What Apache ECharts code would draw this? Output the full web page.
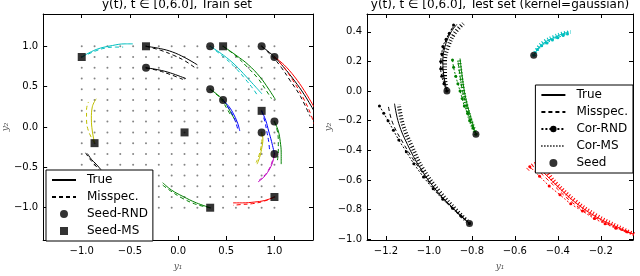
<!DOCTYPE html>
<html><head><meta charset="utf-8">
<script src="https://cdn.jsdelivr.net/npm/echarts@6/dist/echarts.min.js"></script>
<style>html,body{margin:0;padding:0;background:#fff}#c{width:640px;height:276px}</style>
</head><body><div id="c"></div>
<script>
// ---------------- data ----------------
const GRID_VALS = [-1, -0.8667, -0.7333, -0.6, -0.4667, -0.3333, -0.2, -0.0667, 0.0667, 0.2, 0.3333, 0.4667, 0.6, 0.7333, 0.8667, 1];
const LEFT_X_TICKS = [-1, -0.5, 0, 0.5, 1];
const LEFT_Y_TICKS = [-1, -0.5, 0, 0.5, 1];
const RIGHT_X_TICKS = [-1.2, -1.0, -0.8, -0.6, -0.4, -0.2];
const RIGHT_Y_TICKS = [-1.0, -0.8, -0.6, -0.4, -0.2, 0, 0.2, 0.4];

const LEFT_SEED_RND = [[0.333,1.0],[0.867,1.0],[1.0,0.867],[-0.333,0.733],[0.333,0.467],[0.467,0.333],[1.0,0.067],[0.867,-0.067],[1.0,-0.333]];
const LEFT_SEED_MS = [[-1.0,0.867],[-0.333,1.0],[0.467,1.0],[0.867,0.2],[0.067,-0.067],[-0.867,-0.2],[1.0,-0.867],[0.333,-1.0]];

const L1_TRUE = [[-1.0,0.867],[-0.85,0.96],[-0.68,1.01],[-0.55,1.03],[-0.47,1.03]];
const L1_MIS  = [[-1.0,0.867],[-0.86,0.94],[-0.75,0.98],[-0.65,0.99],[-0.57,0.99]];
const L2_TRUE = [[-0.333,1.0],[-0.18,0.97],[-0.06,0.93],[0.07,0.86],[0.20,0.77]];
const L2_MIS  = [[-0.333,1.0],[-0.18,0.95],[-0.05,0.89],[0.07,0.82],[0.18,0.73]];
const L3_TRUE = [[-0.333,0.733],[-0.21,0.71],[-0.08,0.67],[0.08,0.60]];
const L3_MIS  = [[-0.333,0.733],[-0.21,0.70],[-0.08,0.65],[0.05,0.59]];
const L4_TRUE = [[0.333,1.0],[0.47,0.89],[0.59,0.77],[0.71,0.62],[0.81,0.49],[0.87,0.41]];
const L4_MIS  = [[0.333,1.0],[0.47,0.87],[0.59,0.74],[0.70,0.59],[0.78,0.47],[0.83,0.38]];
const L5_TRUE = [[0.467,1.0],[0.60,0.89],[0.73,0.77],[0.85,0.62],[0.94,0.47],[1.01,0.34]];
const L5_MIS  = [[0.467,1.0],[0.60,0.88],[0.72,0.74],[0.83,0.60],[0.91,0.46],[0.97,0.35]];
const L6_TRUE = [[0.867,1.0],[0.99,0.88],[1.09,0.75],[1.21,0.57],[1.31,0.40],[1.41,0.20]];
const L6_MIS  = [[0.867,1.0],[0.98,0.87],[1.07,0.74],[1.16,0.58],[1.27,0.38],[1.37,0.13]];
const L7_TRUE = [[1.0,0.867],[1.10,0.77],[1.21,0.62],[1.31,0.45],[1.41,0.25]];
const L7_MIS  = [[1.0,0.867],[1.09,0.75],[1.19,0.58],[1.29,0.38],[1.37,0.18],[1.41,0.04]];
const L8_TRUE = [[0.333,0.467],[0.41,0.40],[0.467,0.333],[0.52,0.24],[0.56,0.15],[0.59,0.09]];
const L8_MIS  = [[0.333,0.467],[0.41,0.39],[0.46,0.32],[0.51,0.22],[0.55,0.14]];
const L9_TRUE = [[0.467,0.333],[0.53,0.25],[0.58,0.15],[0.62,0.04],[0.64,-0.05]];
const L9_MIS  = [[0.467,0.333],[0.52,0.24],[0.57,0.14],[0.60,0.05],[0.62,-0.03]];
const L10_TRUE = [[0.867,0.2],[0.91,0.08],[0.94,-0.05],[0.97,-0.18],[1.0,-0.333]];
const L10_MIS  = [[0.867,0.2],[0.90,0.07],[0.92,-0.05],[0.94,-0.18],[0.95,-0.30]];
const L11_TRUE = [[1.0,0.067],[1.04,-0.05],[1.06,-0.18],[1.07,-0.32],[1.07,-0.46]];
const L11_MIS  = [[1.0,0.067],[1.03,-0.05],[1.04,-0.18],[1.04,-0.30],[1.03,-0.42]];
const L12_TRUE = [[0.867,-0.067],[0.88,-0.15],[0.87,-0.25],[0.85,-0.36],[0.82,-0.46]];
const L12_MIS  = [[0.867,-0.067],[0.87,-0.15],[0.86,-0.25],[0.84,-0.35],[0.81,-0.44]];
const L13_TRUE = [[1.0,-0.333],[0.98,-0.44],[0.94,-0.54],[0.89,-0.62],[0.83,-0.68]];
const L13_MIS  = [[1.0,-0.333],[0.97,-0.45],[0.93,-0.55],[0.88,-0.62],[0.84,-0.66]];
const L14_TRUE = [[1.0,-0.867],[0.90,-0.91],[0.79,-0.93],[0.67,-0.94],[0.57,-0.94]];
const L14_MIS  = [[1.0,-0.867],[0.89,-0.92],[0.77,-0.95],[0.66,-0.96],[0.57,-0.97]];
const L15_TRUE = [[0.333,-1.0],[0.19,-0.94],[0.05,-0.86],[-0.07,-0.78],[-0.16,-0.69]];
const L15_MIS  = [[0.333,-1.0],[0.19,-0.96],[0.04,-0.88],[-0.08,-0.79],[-0.16,-0.72]];
const L16_TRUE = [[-0.867,-0.2],[-0.89,-0.05],[-0.90,0.10],[-0.89,0.25],[-0.85,0.35]];
const L16_MIS  = [[-0.867,-0.2],[-0.93,-0.05],[-0.95,0.10],[-0.95,0.22],[-0.93,0.31]];
const L17_TRUE = [[-0.94,-0.33],[-0.90,-0.40],[-0.85,-0.46],[-0.80,-0.53]];
const L17_MIS  = [[-0.96,-0.32],[-0.92,-0.39],[-0.87,-0.46],[-0.82,-0.53]];

const RIGHT_SEED = [[-0.512,0.242],[-0.916,0.0],[-0.781,-0.292],[-0.811,-0.893],[-0.033,-0.974]];

const R1_TRUE = [[-0.512,0.242],[-0.49,0.29],[-0.46,0.33],[-0.42,0.36],[-0.38,0.385],[-0.35,0.40]];
const R1_MIS  = [[-0.512,0.242],[-0.49,0.285],[-0.46,0.325],[-0.42,0.355],[-0.38,0.38],[-0.35,0.395]];
const R1_RND  = [[-0.512,0.242],[-0.495,0.28],[-0.475,0.305],[-0.45,0.325],[-0.425,0.345],[-0.40,0.36],[-0.375,0.375],[-0.355,0.385]];
const R1_MS   = [[-0.512,0.242],[-0.49,0.295],[-0.46,0.335],[-0.42,0.365],[-0.38,0.387],[-0.34,0.398]];
const R2_TRUE = [[-0.916,0.0],[-0.93,0.1],[-0.935,0.2],[-0.925,0.3],[-0.90,0.39],[-0.87,0.45]];
const R2_MIS  = [[-0.916,0.0],[-0.933,0.1],[-0.938,0.2],[-0.93,0.3],[-0.905,0.39],[-0.877,0.45]];
const R2_RND  = [[-0.916,0.0],[-0.93,0.05],[-0.94,0.1],[-0.945,0.15],[-0.945,0.2],[-0.94,0.25],[-0.935,0.3],[-0.92,0.35],[-0.905,0.39],[-0.885,0.445]];
const R2_MS   = [[-0.916,0.0],[-0.925,0.1],[-0.925,0.2],[-0.91,0.3],[-0.88,0.39],[-0.84,0.455]];
const R3_TRUE = [[-0.781,-0.292],[-0.80,-0.2],[-0.82,-0.1],[-0.835,0.0],[-0.845,0.1],[-0.855,0.22]];
const R3_MIS  = [[-0.781,-0.292],[-0.805,-0.2],[-0.825,-0.1],[-0.843,0.0],[-0.855,0.1],[-0.865,0.21]];
const R3_RND  = [[-0.781,-0.292],[-0.795,-0.25],[-0.81,-0.2],[-0.82,-0.15],[-0.835,-0.1],[-0.845,-0.05],[-0.855,0.0],[-0.865,0.05],[-0.875,0.1],[-0.885,0.16],[-0.89,0.21]];
const R3_MS   = [[-0.781,-0.292],[-0.805,-0.2],[-0.825,-0.1],[-0.84,0.0],[-0.85,0.1],[-0.86,0.21]];
const R4_TRUE = [[-0.811,-0.893],[-0.88,-0.80],[-0.96,-0.68],[-1.04,-0.52],[-1.10,-0.36],[-1.14,-0.22],[-1.16,-0.085]];
const R4_MIS  = [[-0.811,-0.893],[-0.885,-0.80],[-0.97,-0.67],[-1.05,-0.51],[-1.12,-0.35],[-1.17,-0.21],[-1.19,-0.09]];
const R4_RND  = [[-0.811,-0.893],[-0.85,-0.845],[-0.89,-0.79],[-0.935,-0.73],[-0.98,-0.66],[-1.025,-0.58],[-1.07,-0.49],[-1.105,-0.41],[-1.14,-0.33],[-1.165,-0.265],[-1.19,-0.2],[-1.21,-0.15],[-1.23,-0.1]];
const R4_MS   = [[-0.811,-0.893],[-0.875,-0.80],[-0.95,-0.68],[-1.03,-0.52],[-1.08,-0.37],[-1.12,-0.23],[-1.14,-0.09]];
const R5_TRUE = [[-0.033,-0.974],[-0.12,-0.92],[-0.22,-0.85],[-0.32,-0.75],[-0.41,-0.63],[-0.50,-0.50]];
const R5_MIS  = [[-0.033,-0.974],[-0.125,-0.925],[-0.225,-0.855],[-0.33,-0.755],[-0.42,-0.635],[-0.51,-0.51]];
const R5_RND  = [[-0.033,-0.974],[-0.08,-0.95],[-0.13,-0.925],[-0.18,-0.895],[-0.23,-0.86],[-0.285,-0.81],[-0.34,-0.76],[-0.39,-0.70],[-0.44,-0.64],[-0.485,-0.575],[-0.53,-0.51]];
const R5_MS   = [[-0.033,-0.974],[-0.12,-0.915],[-0.22,-0.84],[-0.32,-0.74],[-0.41,-0.62],[-0.50,-0.49],[-0.54,-0.53]];

// ---------------- styling / assembly ----------------
const C = {b:'#0000ff', g:'#008000', r:'#ff0000', c:'#00bfbf', m:'#bf00bf', y:'#bfbf00', k:'#000000'};
const leftCurves = [
  [L1_TRUE, L1_MIS, 'c'], [L2_TRUE, L2_MIS, 'k'], [L3_TRUE, L3_MIS, 'k'], [L4_TRUE, L4_MIS, 'c'],
  [L5_TRUE, L5_MIS, 'g'], [L6_TRUE, L6_MIS, 'k'], [L7_TRUE, L7_MIS, 'r'], [L8_TRUE, L8_MIS, 'g'],
  [L9_TRUE, L9_MIS, 'b'], [L10_TRUE, L10_MIS, 'b'], [L11_TRUE, L11_MIS, 'g'], [L12_TRUE, L12_MIS, 'y'],
  [L13_TRUE, L13_MIS, 'm'], [L14_TRUE, L14_MIS, 'r'], [L15_TRUE, L15_MIS, 'g'], [L16_TRUE, L16_MIS, 'y'],
  [L17_TRUE, L17_MIS, 'k']
];
const rightCurves = [
  [R1_TRUE, R1_MIS, R1_RND, R1_MS, 'c'], [R2_TRUE, R2_MIS, R2_RND, R2_MS, 'k'],
  [R3_TRUE, R3_MIS, R3_RND, R3_MS, 'g'], [R4_TRUE, R4_MIS, R4_RND, R4_MS, 'k'],
  [R5_TRUE, R5_MIS, R5_RND, R5_MS, 'r']
];

const FONT = 'DejaVu Sans';
const fmt = v => (v < 0 ? '\u2212' : '') + Math.abs(v).toFixed(1);
const DASH = [4, 3];

function axisPair(gridIndex, min, max, ticks, dim, name, nameGap) {
  const isX = dim === 'x';
  const line = {show: true, onZero: false, lineStyle: {color: '#000', width: 1}};
  const tick = {show: true, inside: true, length: 4, customValues: ticks, lineStyle: {color: '#000', width: 1}};
  const main = {
    type: 'value', gridIndex, min, max, position: isX ? 'bottom' : 'left',
    axisLine: line, splitLine: {show: false}, axisTick: tick,
    axisLabel: {show: true, customValues: ticks, formatter: fmt, color: '#000', fontFamily: FONT, fontSize: 10, margin: isX ? 6 : 5},
    name, nameLocation: 'middle', nameGap, nameRotate: isX ? 0 : 90,
    nameTextStyle: {fontFamily: 'DejaVu Serif', fontStyle: 'italic', fontSize: 9, color: '#555'}
  };
  const other = {
    type: 'value', gridIndex, min, max, position: isX ? 'top' : 'right',
    axisLine: line, splitLine: {show: false}, axisTick: tick,
    axisLabel: {show: false}
  };
  return [main, other];
}

const series = [];
// legend proxy series (empty)
series.push({name: 'True', type: 'line', xAxisIndex: 0, yAxisIndex: 0, data: [], symbol: 'none', lineStyle: {color: '#000', width: 1}, itemStyle: {color: '#000'}});
series.push({name: 'Misspec.', type: 'line', xAxisIndex: 0, yAxisIndex: 0, data: [], symbol: 'none', lineStyle: {color: '#000', width: 1, type: DASH}, itemStyle: {color: '#000'}});
series.push({name: 'Cor-RND', type: 'line', xAxisIndex: 0, yAxisIndex: 0, data: [], symbol: 'circle', symbolSize: 4, lineStyle: {color: '#000', width: 1, type: [2, 2]}, itemStyle: {color: '#000'}});
series.push({name: 'Cor-MS', type: 'line', xAxisIndex: 0, yAxisIndex: 0, data: [], symbol: 'none', lineStyle: {color: '#000', width: 4, type: [1, 2]}, itemStyle: {color: '#000'}});

// grid dots
const dots = [];
for (const gx of GRID_VALS) for (const gy of GRID_VALS) dots.push([gx, gy]);
series.push({type: 'scatter', xAxisIndex: 0, yAxisIndex: 0, data: dots, symbolSize: 2, itemStyle: {color: '#666'}, silent: true, z: 1});

// left trajectories
leftCurves.forEach((cv, i) => {
  const col = C[cv[2]];
  series.push({name: 'lt' + i, type: 'line', xAxisIndex: 0, yAxisIndex: 0, data: cv[0], smooth: 0.4, showSymbol: false, symbol: 'none', lineStyle: {color: col, width: 1}, silent: true, z: 3});
  series.push({name: 'lm' + i, type: 'line', xAxisIndex: 0, yAxisIndex: 0, data: cv[1], smooth: 0.4, showSymbol: false, symbol: 'none', lineStyle: {color: col, width: 1, type: DASH}, silent: true, z: 3});
});
series.push({name: 'Seed-RND', type: 'scatter', xAxisIndex: 0, yAxisIndex: 0, data: LEFT_SEED_RND, symbol: 'circle', symbolSize: 8, itemStyle: {color: '#000'}, z: 5});
series.push({name: 'Seed-MS', type: 'scatter', xAxisIndex: 0, yAxisIndex: 0, data: LEFT_SEED_MS, symbol: 'rect', symbolSize: 8, itemStyle: {color: '#000'}, z: 5});

// right trajectories
rightCurves.forEach((cv, i) => {
  const col = C[cv[4]];
  series.push({name: 'rt' + i, type: 'line', xAxisIndex: 2, yAxisIndex: 2, data: cv[0], smooth: 0.4, symbol: 'none', lineStyle: {color: col, width: 1}, silent: true, z: 3});
  series.push({name: 'rm' + i, type: 'line', xAxisIndex: 2, yAxisIndex: 2, data: cv[1], smooth: 0.4, symbol: 'none', lineStyle: {color: col, width: 1, type: DASH}, silent: true, z: 3});
  series.push({name: 'rr' + i, type: 'line', xAxisIndex: 2, yAxisIndex: 2, data: cv[2], smooth: 0.4, symbol: 'circle', symbolSize: 3, showSymbol: true, showAllSymbol: true, itemStyle: {color: col}, lineStyle: {color: col, width: 1, type: [2, 2]}, silent: true, z: 3});
  series.push({name: 'rs' + i, type: 'line', xAxisIndex: 2, yAxisIndex: 2, data: cv[3], smooth: 0.4, symbol: 'none', lineStyle: {color: col, width: 4, type: [1, 2]}, silent: true, z: 3});
});
series.push({name: 'Seed', type: 'scatter', xAxisIndex: 2, yAxisIndex: 2, data: RIGHT_SEED, symbol: 'circle', symbolSize: 7, itemStyle: {color: '#000'}, z: 5});

const lx = axisPair(0, -1.4, 1.4, LEFT_X_TICKS, 'x', 'y\u2081', 22);
const ly = axisPair(0, -1.4, 1.4, LEFT_Y_TICKS, 'y', 'y\u2082', 29);
const rx = axisPair(1, -1.288, -0.05, RIGHT_X_TICKS, 'x', 'y\u2081', 22);
const ry = axisPair(1, -1.005, 0.52, RIGHT_Y_TICKS, 'y', 'y\u2082', 34);

const HIDE = {opacity: 0, color: 'rgba(0,0,0,0)', borderWidth: 0};
const SQUARE = 'path://M0,0L10,0L10,10L0,10Z';
const CIRCLE = 'path://M5,0A5,5,0,1,1,4.99,0Z';
const legendCommon = {
  orient: 'vertical', itemWidth: 24, itemHeight: 8, itemGap: 3, symbolKeepAspect: true,
  backgroundColor: '#fff', borderColor: '#000', borderWidth: 1, borderRadius: 0,
  padding: [3, 5, 3, 5], z: 10, selectedMode: false,
  textStyle: {fontFamily: FONT, fontSize: 12, color: '#000', lineHeight: 14, padding: [0, 0, 0, 6]},
  itemStyle: {borderWidth: 0}
};

const option = {
  animation: false,
  backgroundColor: '#fff',
  title: [
    {text: 'y(t), t \u2208 [0,6.0], Train set', left: 177, textAlign: 'center', top: -1, padding: 0,
     textStyle: {fontFamily: FONT, fontSize: 12, fontWeight: 'normal', color: '#000'}},
    {text: 'y(t), t \u2208 [0,6.0], Test set (kernel=gaussian)', left: 500, textAlign: 'center', top: -1, padding: 0,
     textStyle: {fontFamily: FONT, fontSize: 12, fontWeight: 'normal', color: '#000'}}
  ],
  grid: [
    {left: 41, top: 14, width: 272, height: 234, show: false},
    {left: 367, top: 14, width: 266, height: 234, show: false}
  ],
  xAxis: [lx[0], lx[1], rx[0], rx[1]],
  yAxis: [ly[0], ly[1], ry[0], ry[1]],
  legend: [
    Object.assign({}, legendCommon, {left: 46, top: 170, data: [
      {name: 'True', itemStyle: HIDE}, {name: 'Misspec.', itemStyle: HIDE},
      {name: 'Seed-RND', icon: CIRCLE}, {name: 'Seed-MS', icon: SQUARE}]}),
    Object.assign({}, legendCommon, {right: 7, top: 85, data: [
      {name: 'True', itemStyle: HIDE}, {name: 'Misspec.', itemStyle: HIDE}, 'Cor-RND',
      {name: 'Cor-MS', itemStyle: HIDE}, {name: 'Seed', icon: 'path://M5,0A5,5,0,1,1,4.99,0Z'}]})
  ],
  series
};

const chart = echarts.init(document.getElementById('c'), null, {renderer: 'canvas'});
chart.setOption(option);
</script>
</body></html>
